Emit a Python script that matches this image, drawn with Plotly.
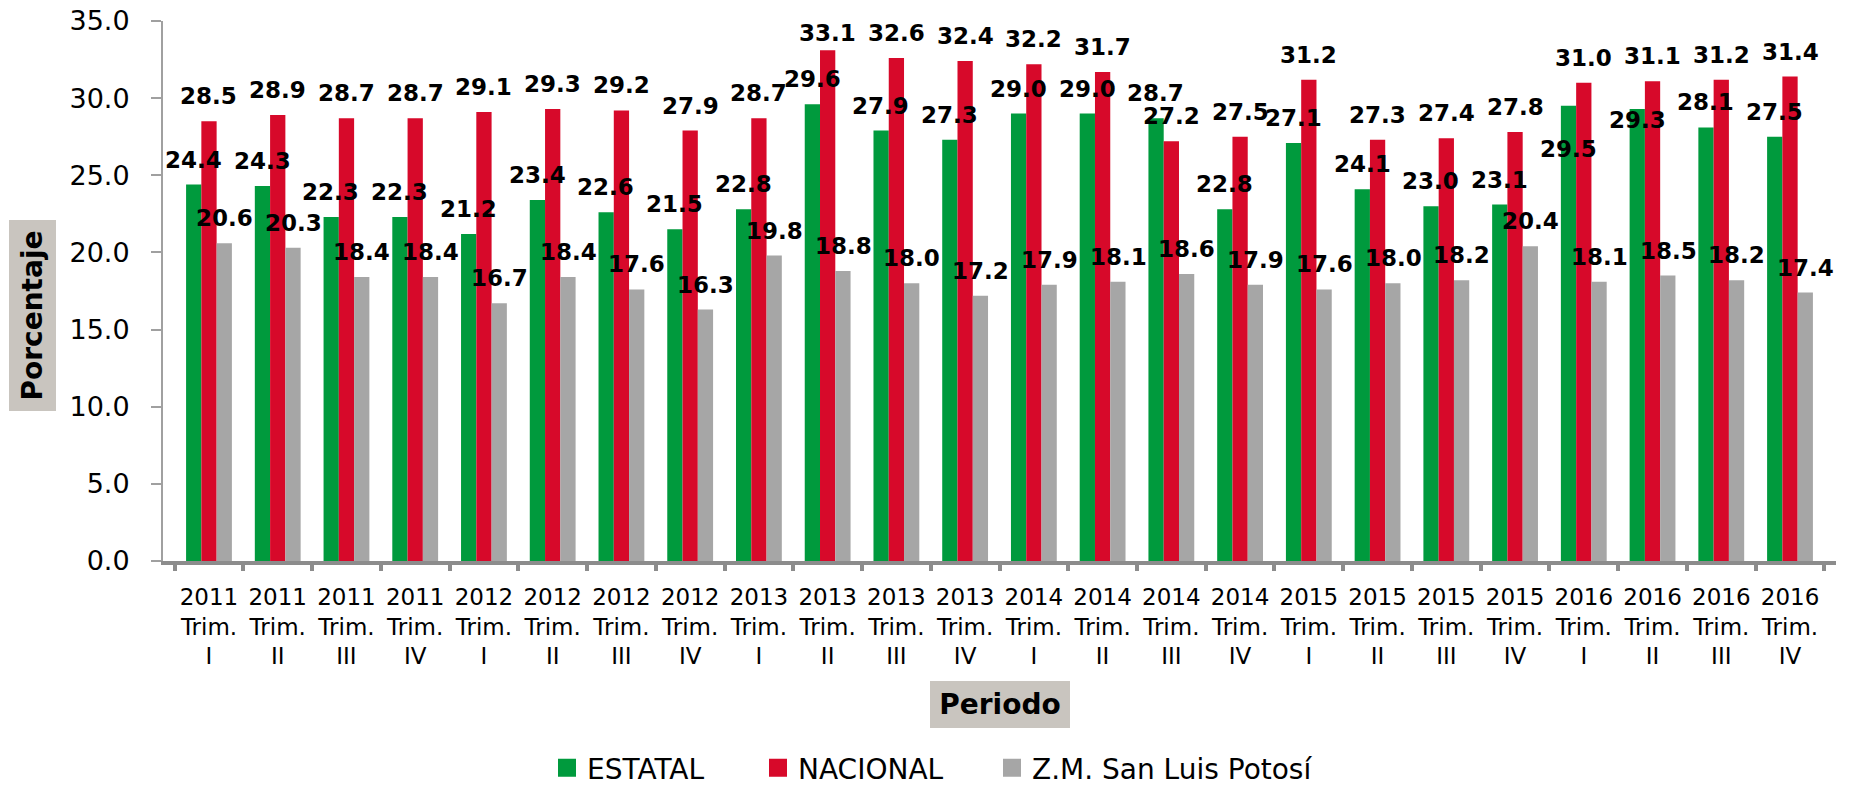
import plotly.graph_objects as go

# ---------------- data ----------------
years = ["2011", "2011", "2011", "2011", "2012", "2012", "2012", "2012",
         "2013", "2013", "2013", "2013", "2014", "2014", "2014", "2014",
         "2015", "2015", "2015", "2015", "2016", "2016", "2016", "2016"]
quarters = ["I", "II", "III", "IV"] * 6

estatal = [24.4, 24.3, 22.3, 22.3, 21.2, 23.4, 22.6, 21.5, 22.8, 29.6, 27.9, 27.3,
           29.0, 29.0, 28.7, 22.8, 27.1, 24.1, 23.0, 23.1, 29.5, 29.3, 28.1, 27.5]
nacional = [28.5, 28.9, 28.7, 28.7, 29.1, 29.3, 29.2, 27.9, 28.7, 33.1, 32.6, 32.4,
            32.2, 31.7, 27.2, 27.5, 31.2, 27.3, 27.4, 27.8, 31.0, 31.1, 31.2, 31.4]
zm_slp = [20.6, 20.3, 18.4, 18.4, 16.7, 18.4, 17.6, 16.3, 19.8, 18.8, 18.0, 17.2,
          17.9, 18.1, 18.6, 17.9, 17.6, 18.0, 18.2, 20.4, 18.1, 18.5, 18.2, 17.4]

series_names = ["ESTATAL", "NACIONAL", "Z.M. San Luis Potosí"]
series_values = [estatal, nacional, zm_slp]
series_colors = ["#009A3D", "#D7092A", "#A6A6A6"]

categories = [f"{y}<br>Trim.<br>{q}" for y, q in zip(years, quarters)]

# ---------------- layout constants ----------------
W, H = 1853, 787
ML, MR, MT, MB = 163, 17, 21, 226
FONT = "DejaVu Sans"
BARGAP = 1 / 3
plot_w = W - ML - MR
cat_px = plot_w / len(categories)
bar_px = cat_px * (1 - BARGAP) / 3

fig = go.Figure()

for name, vals, col in zip(series_names, series_values, series_colors):
    fig.add_trace(go.Bar(
        x=categories, y=vals, name=name, marker_color=col,
        marker_line_width=0, showlegend=False, legendgroup=name,
        hoverinfo="x+y+name",
    ))

# legend entries (square swatches)
legend_widths = [166, 189, 290]
for name, col, lw in zip(series_names, series_colors, legend_widths):
    fig.add_trace(go.Scatter(
        x=[None], y=[None], mode="markers", name=name, legendgroup=name,
        marker=dict(symbol="square", size=16, color=col,
                    line=dict(width=2, color=col)),
        legendwidth=lw, showlegend=True,
    ))

# manual label nudges (pixels, series index, category index)
label_nudge = {(0, 20): -68, (0, 21): -36, (1, 9): -8}

annotations = []
for si, vals in enumerate(series_values):
    for ci, v in enumerate(vals):
        annotations.append(dict(
            x=categories[ci], y=v, xref="x", yref="y",
            text=f"{v:.1f}", showarrow=False,
            xanchor="center", yanchor="bottom",
            xshift=(si - 1) * bar_px,
            yshift=10 + label_nudge.get((si, ci), 0),
            font=dict(family=FONT, size=23, color="black", weight="bold"),
        ))

plot_h = H - MT - MB
annotations.append(dict(
    x=(32.5 - ML) / plot_w, y=(H - MB - 315.5) / plot_h, xref="paper", yref="paper",
    text="<b>Porcentaje</b>", textangle=-90, showarrow=False,
    xanchor="center", yanchor="middle",
    bgcolor="#C9C5BF", width=191, height=47, borderpad=0, borderwidth=0,
    font=dict(family=FONT, size=28, color="black"),
))
annotations.append(dict(
    x=(1000 - ML) / plot_w, y=(H - MB - 704.5) / plot_h, xref="paper", yref="paper",
    text="<b>Periodo</b>", showarrow=False,
    xanchor="center", yanchor="middle",
    bgcolor="#C9C5BF", width=140, height=47, borderpad=0, borderwidth=0,
    font=dict(family=FONT, size=28, color="black"),
))

fig.update_layout(
    width=W, height=H,
    margin=dict(l=ML, r=MR, t=MT, b=MB, pad=0, autoexpand=False),
    paper_bgcolor="white", plot_bgcolor="white",
    barmode="group", bargap=BARGAP, bargroupgap=0,
    font=dict(family=FONT, color="black"),
    annotations=annotations,
    showlegend=True,
    legend=dict(
        orientation="h", x=(547 - ML) / plot_w, xanchor="left",
        y=(H - MB - 768) / plot_h, yanchor="middle",
        font=dict(family=FONT, size=28, color="black"),
        bgcolor="rgba(0,0,0,0)",
    ),
    xaxis=dict(
        type="category", showgrid=False, zeroline=False, automargin=False,
        showline=True, linecolor="#8C8C8C", linewidth=4,
        ticks="outside", tickson="boundaries", ticklen=6, tickwidth=4,
        tickcolor="#8C8C8C", tickangle=0,
        tickfont=dict(family=FONT, size=23, color="black"),
        ticklabelstandoff=12,
    ),
    yaxis=dict(
        range=[0, 35], dtick=5, tickformat=".1f", automargin=False,
        showgrid=False, zeroline=False,
        showline=True, linecolor="#A0A0A0", linewidth=2,
        ticks="outside", ticklen=10, tickwidth=2, tickcolor="#A0A0A0",
        tickfont=dict(family=FONT, size=27, color="black"),
        ticklabelstandoff=16,
    ),
)

fig.write_html("out.html", config={"displayModeBar": False},
               post_script="document.body.style.margin='0px';")
